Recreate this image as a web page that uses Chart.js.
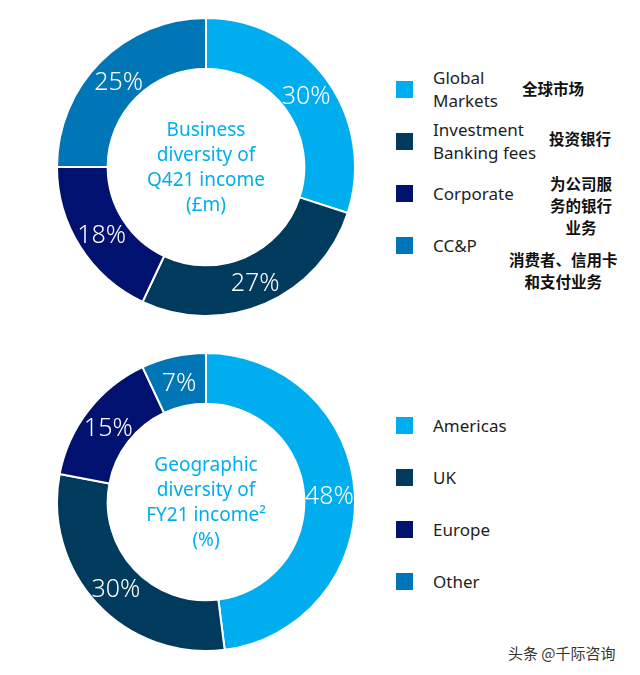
<!DOCTYPE html>
<html>
<head>
<meta charset="utf-8">
<script src="https://cdn.jsdelivr.net/npm/chart.js@4.4.0/dist/chart.umd.min.js"></script>
<style>
  body { margin: 0; background: #fff; width: 640px; height: 675px; position: relative; overflow: hidden;
         font-family: 'Noto Sans', 'Open Sans', sans-serif; }
  .chart { position: absolute; left: 56px; width: 300px; height: 300px; }
  #top { top: 17px; }
  #bottom { top: 352px; }
  .legend { position: absolute; left: 396px; }
  .item { position: absolute; left: 0; width: 240px; }
  .sw { position: absolute; left: 0; width: 17px; height: 17px; }
  .lbl { position: absolute; left: 37px; font-size: 17px; line-height: 23px; color: #1e1e1e; white-space: nowrap; }
  .cn { position: absolute; font-family: 'Noto Sans CJK SC', sans-serif; font-weight: 600; font-size: 15.5px;
        line-height: 22px; color: #111; text-align: center; white-space: nowrap; }
  .wm { position: absolute; left: 508px; top: 642px; font-family: 'Noto Sans CJK SC', sans-serif; font-size: 15px; color: #333; }
</style>
</head>
<body>
<div class="chart" id="top"><canvas id="topChart"></canvas></div>
<div class="chart" id="bottom"><canvas id="bottomChart"></canvas></div>
<div class="legend" id="legTop" style="top:89px"></div>
<div class="legend" id="legBottom" style="top:425px"></div>

<div class="cn" style="left:522px; top:77px">全球市场</div>
<div class="cn" style="left:549px; top:127px">投资银行</div>
<div class="cn" style="left:550px; top:172px">为公司服<br>务的银行<br>业务</div>
<div class="cn" style="left:509px; top:248px">消费者、信用卡<br>和支付业务</div>
<div class="wm">头条 @千际咨询</div>

<script>
const businessLabels = [['Global', 'Markets'], ['Investment', 'Banking fees'], ['Corporate'], ['CC&P']];
const businessValues = [30, 27, 18, 25];
const businessCenter = ['Business', 'diversity of', 'Q421 income', '(£m)'];

const geoLabels = [['Americas'], ['UK'], ['Europe'], ['Other']];
const geoValues = [48, 30, 15, 7];
const geoCenter = ['Geographic', 'diversity of', 'FY21 income²', '(%)'];

const colors = ['#00aeef', '#003a5d', '#001170', '#0076b6'];

// white % labels in the middle of each ring slice
const sliceLabels = {
  id: 'sliceLabels',
  afterDatasetsDraw(chart) {
    const ctx = chart.ctx;
    const meta = chart.getDatasetMeta(0);
    ctx.save();
    ctx.fillStyle = '#fff';
    ctx.font = '300 25px "Noto Sans", "Open Sans", sans-serif';
    ctx.textAlign = 'center';
    ctx.textBaseline = 'middle';
    meta.data.forEach((arc, i) => {
      const p = arc.tooltipPosition();
      ctx.fillText(chart.data.datasets[0].data[i] + '%', p.x, p.y + 3);
    });
    ctx.restore();
  }
};

const centerText = {
  id: 'centerText',
  afterDraw(chart, args, opts) {
    const ctx = chart.ctx;
    const a = chart.chartArea;
    const cx = (a.left + a.right) / 2, cy = (a.top + a.bottom) / 2 + 1;
    const lh = 25;
    ctx.save();
    ctx.fillStyle = '#00aeef';
    ctx.font = '19px "Noto Sans", "Open Sans", sans-serif';
    ctx.textAlign = 'center';
    ctx.textBaseline = 'middle';
    opts.lines.forEach((t, i) => {
      ctx.fillText(t, cx, cy + (i - (opts.lines.length - 1) / 2) * lh);
    });
    ctx.restore();
  }
};

function donut(id, labels, values, center) {
  return new Chart(document.getElementById(id), {
    type: 'doughnut',
    data: {
      labels: labels.map(l => l.join(' ')),
      datasets: [{
        data: values,
        backgroundColor: colors,
        borderColor: '#fff',
        borderWidth: 2,
      }],
    },
    options: {
      responsive: true,
      maintainAspectRatio: false,
      animation: false,
      cutout: '66%',
      plugins: {
        legend: { display: false },
        tooltip: { enabled: false },
        centerText: { lines: center },
      },
    },
    plugins: [sliceLabels, centerText],
  });
}

function legend(id, labels) {
  const el = document.getElementById(id);
  labels.forEach((lines, i) => {
    const item = document.createElement('div');
    item.className = 'item';
    item.style.top = (i * 52) + 'px';
    item.innerHTML = `<div class="sw" style="top:-8px;background:${colors[i]}"></div>` +
      `<div class="lbl" style="top:${-lines.length * 23 / 2}px">${lines.join('<br>')}</div>`;
    el.appendChild(item);
  });
}

donut('topChart', businessLabels, businessValues, businessCenter);
donut('bottomChart', geoLabels, geoValues, geoCenter);
legend('legTop', businessLabels);
legend('legBottom', geoLabels);
</script>
</body>
</html>
